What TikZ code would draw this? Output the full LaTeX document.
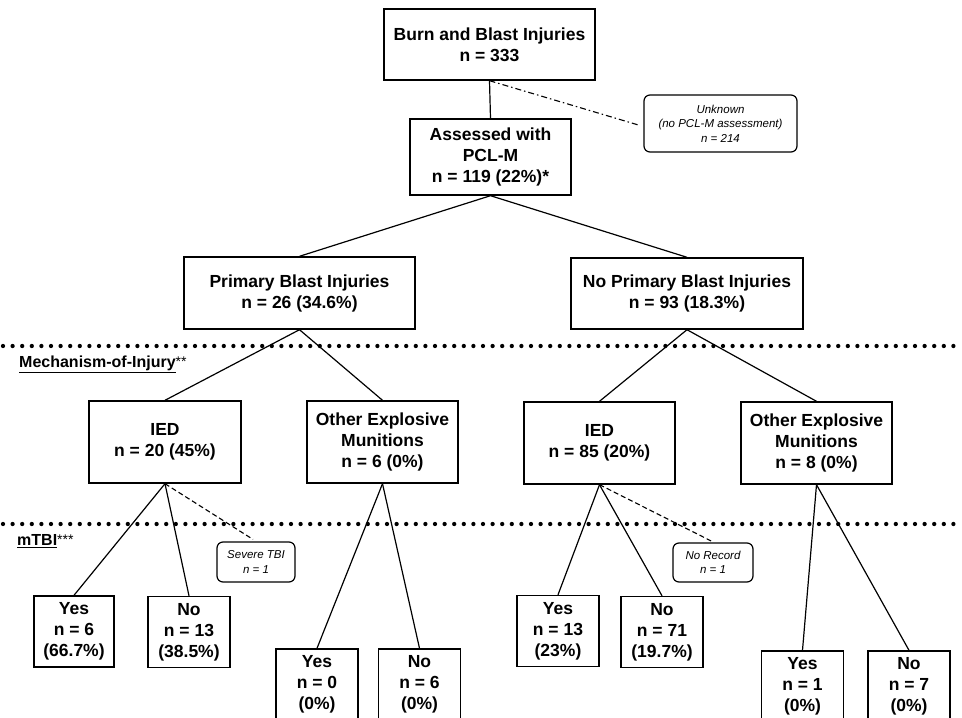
\documentclass[tikz,border=0pt]{standalone}
\usepackage{fontspec}
\setmainfont{Liberation Sans}
\usepackage{tikz}
\usetikzlibrary{calc}

\newcommand{\layermark}[1]{\raisebox{1pt}{\fontsize{14}{14}\selectfont\mdseries #1}}

\begin{document}
\begin{tikzpicture}[x=1pt, y=-1pt,
    catbox/.style={rectangle, draw=black, line width=1.4pt, align=center, inner sep=0pt,
                 font=\fontsize{17.5}{21}\selectfont\bfseries},
    leafbox/.style={catbox, minimum width=82pt, minimum height=71pt},
    notebox/.style={rectangle, draw=black, line width=1.2pt, rounded corners=6pt, align=center,
                 inner sep=0pt, font=\fontsize{11.5}{14.5}\selectfont\itshape},
    layerlabel/.style={anchor=west, inner sep=0pt, font=\fontsize{16}{19}\selectfont\bfseries},
    link/.style={line width=1.2pt, black},
    aside/.style={line width=1.1pt, black, dash pattern=on 5pt off 3pt},
    sepline/.style={line width=4.3pt, line cap=round, dash pattern=on 0pt off 9.6pt}
]
\useasboundingbox (0,0) rectangle (962,718);

\node[catbox, minimum width=211pt, minimum height=71pt] (burn) at (489.5,44.5) {Burn and Blast Injuries\\n = 333};
\node[catbox, minimum width=161pt, minimum height=76pt] (pclm) at (490.5,157) {Assessed with\\PCL-M\\n = 119 (22\%)*};
\node[notebox, minimum width=153pt, minimum height=57pt] (unknown) at (720.5,123.5) {Unknown\\(no PCL-M assessment)\\n = 214};

\node[catbox, minimum width=231pt, minimum height=72pt] (pbi)  at (299.5,293) {Primary Blast Injuries\\n = 26 (34.6\%)};
\node[catbox, minimum width=232pt, minimum height=71pt] (npbi) at (687,293.5) {No Primary Blast Injuries\\n = 93 (18.3\%)};

\draw[sepline] (3,346) -- (962,346);
\node[layerlabel] (moi) at (19,364) {\underline{Mechanism-of-Injury}\layermark{**}};

\node[catbox, minimum width=152pt, minimum height=82pt] (iedA) at (165,442)   {IED\\n = 20 (45\%)};
\node[catbox, minimum width=151pt, minimum height=82pt] (oemA) at (382.5,442) {Other Explosive\\Munitions\\n = 6 (0\%)};
\node[catbox, minimum width=151pt, minimum height=82pt] (iedB) at (599.5,443) {IED\\n = 85 (20\%)};
\node[catbox, minimum width=151pt, minimum height=82pt] (oemB) at (816.5,443) {Other Explosive\\Munitions\\n = 8 (0\%)};

\draw[sepline] (3,524) -- (962,524);
\node[layerlabel] (mtbi) at (17,541) {\underline{mTBI}\layermark{***}};

\node[notebox, minimum width=78pt, minimum height=40pt] (sevtbi) at (256,562)   {Severe TBI\\n = 1};
\node[notebox, minimum width=80pt, minimum height=39pt] (norec)  at (713,562.5) {No Record\\n = 1};

\node[leafbox, minimum width=80pt] (yesA) at (74,631.5)  {Yes\\n = 6\\(66.7\%)};
\node[leafbox] (noA)  at (189,632)   {No\\n = 13\\(38.5\%)};
\node[leafbox] (yesB) at (317,684.5) {Yes\\n = 0\\(0\%)};
\node[leafbox] (noB)  at (419.5,684.5) {No\\n = 6\\(0\%)};
\node[leafbox] (yesC) at (558,631)   {Yes\\n = 13\\(23\%)};
\node[leafbox] (noC)  at (662,632)   {No\\n = 71\\(19.7\%)};
\node[leafbox] (yesD) at (802.5,686.5) {Yes\\n = 1\\(0\%)};
\node[leafbox] (noD)  at (909,686.5) {No\\n = 7\\(0\%)};

\draw[link] (burn.south) -- (pclm.north);
\draw[line width=1.1pt, dash pattern=on 6pt off 3pt on 1.5pt off 3pt] (burn.south) -- ($(unknown.west)+(-5,1.5)$);
\draw[link] (pclm.south) -- (pbi.north);
\draw[link] (pclm.south) -- (npbi.north);
\draw[link] (pbi.south) -- (iedA.north);
\draw[link] (pbi.south) -- (oemA.north);
\draw[link] (npbi.south) -- (iedB.north);
\draw[link] (npbi.south) -- (oemB.north);
\draw[link] (iedA.south) -- (yesA.north);
\draw[link] (iedA.south) -- (noA.north);
\draw[aside] (iedA.south) -- ($(sevtbi.north)+(-3,-2)$);
\draw[link] (oemA.south) -- (yesB.north);
\draw[link] (oemA.south) -- (noB.north);
\draw[link] (iedB.south) -- (yesC.north);
\draw[link] (iedB.south) -- (noC.north);
\draw[aside] (iedB.south) -- ($(norec.north)+(-1,-1)$);
\draw[link] (oemB.south) -- (yesD.north);
\draw[link] (oemB.south) -- (noD.north);
\end{tikzpicture}
\end{document}
